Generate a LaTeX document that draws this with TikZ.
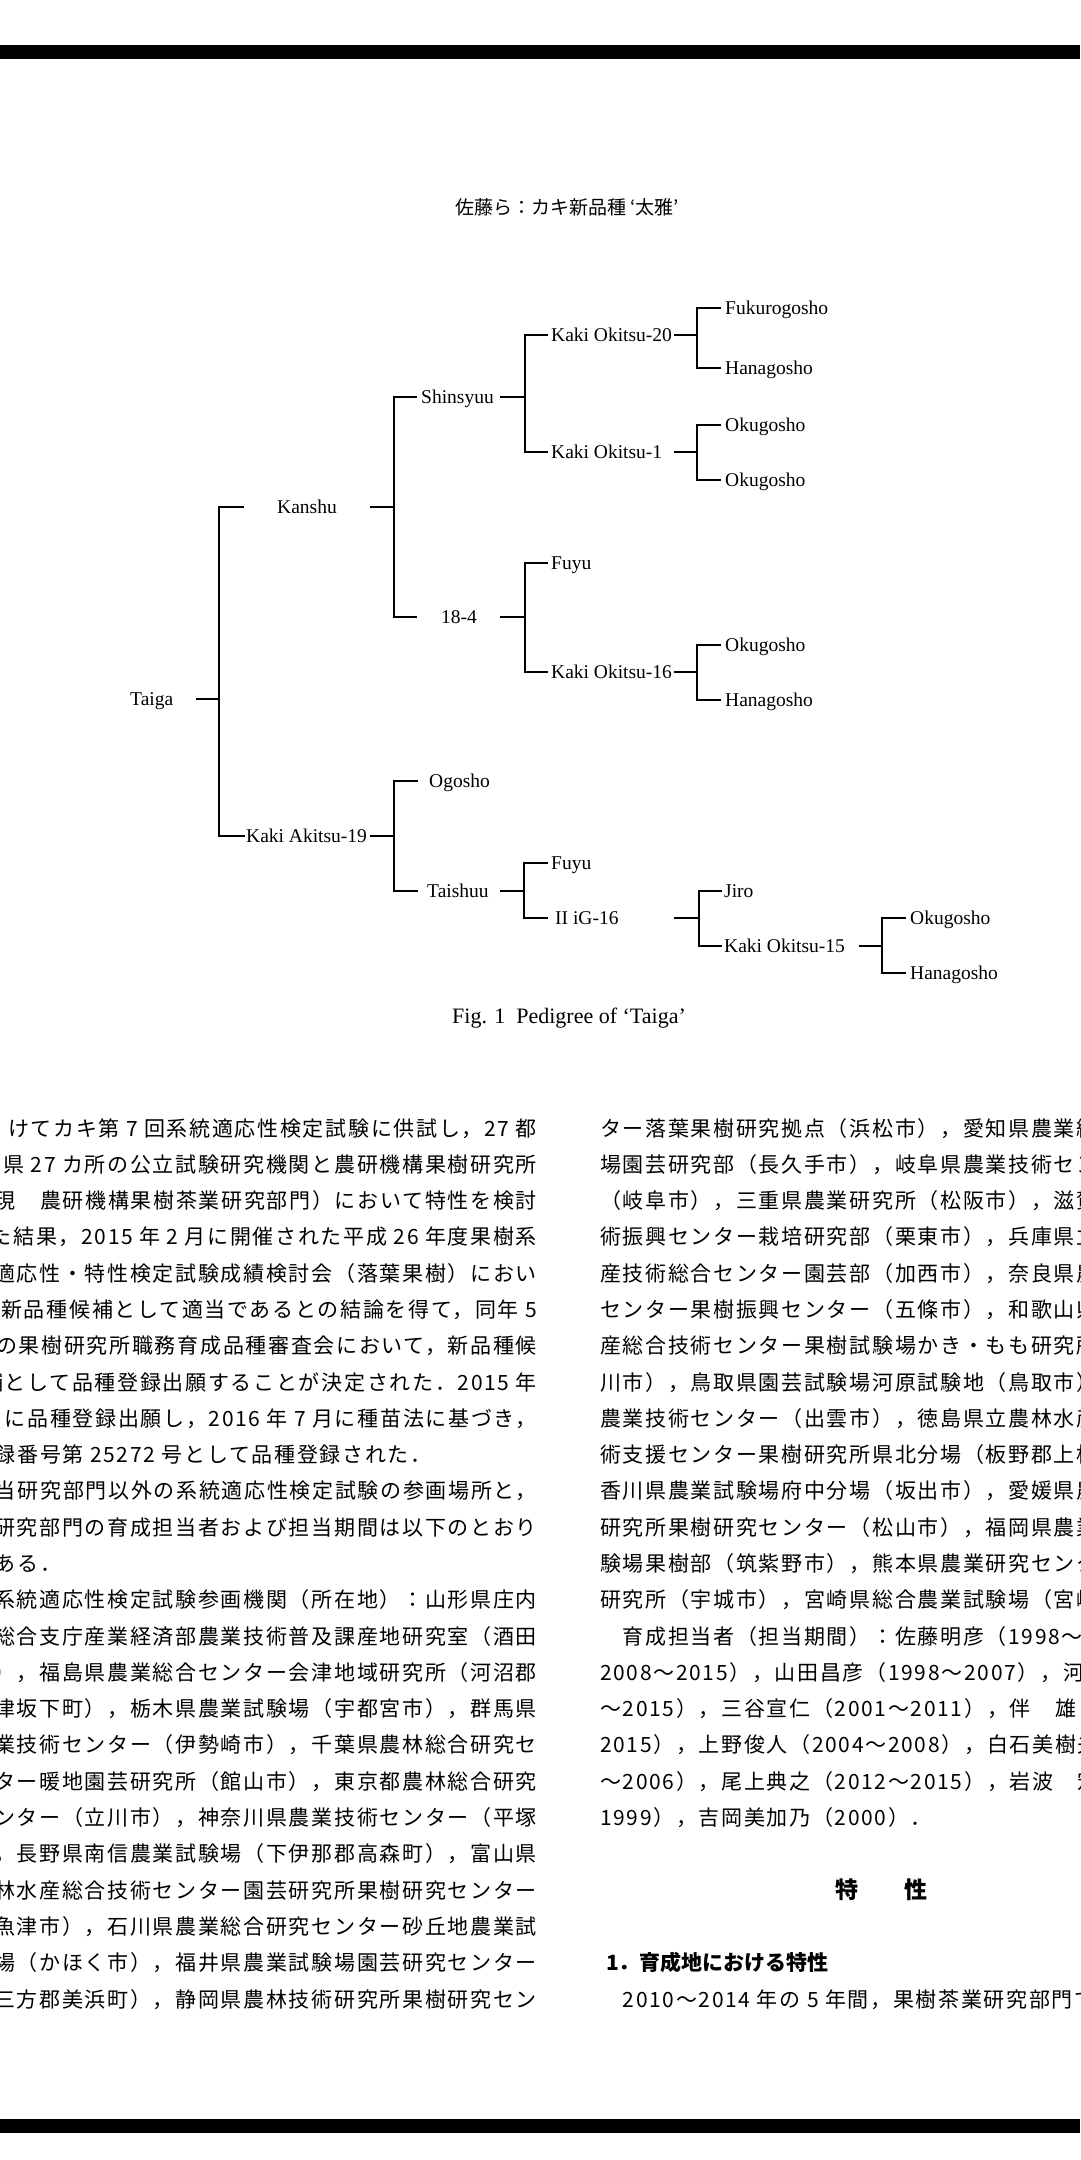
\documentclass[tikz,border=0pt]{standalone}
\usepackage{fontspec}
\setmainfont{Liberation Serif}
\newfontfamily\cjk[LetterSpace=8]{Noto Sans CJK JP}
\newfontfamily\cjkplain{Noto Sans CJK JP}
\begin{document}
\begin{tikzpicture}[x=1pt,y=-1pt,
  lnk/.style={line width=2.5pt, line join=miter},
  lab/.style={font=\fontsize{19.5}{20}\selectfont, anchor=west, inner sep=0pt, text height=12.9pt, text depth=0pt},
  jl/.style={font=\cjk\fontsize{21}{21}\selectfont, inner sep=0pt, anchor=base east},
  jw/.style={font=\cjk\fontsize{21}{21}\selectfont, inner sep=0pt, anchor=base west},
  bar/.style={fill=black}
]
\useasboundingbox (0,0) rectangle (1080,2160);
\fill[white] (0,0) rectangle (1080,2160);
\begin{scope}
\clip (0,0) rectangle (1080,2160);
% bars
\fill[bar] (0,45) rectangle (1080,59);
\fill[bar] (0,2119) rectangle (1080,2133);
% header
\node[font=\cjkplain\fontsize{19}{19}\selectfont, inner sep=0pt] (hdr) at (567,207) {佐藤ら：カキ新品種 ‘太雅’};

% ---------- pedigree ----------
\node[lab] (taiga) at (130,699) {Taiga};
\node[lab] (kanshu) at (277,507) {Kanshu};
\node[lab] (shin) at (421,397) {Shinsyuu};
\node[lab] (ko20) at (551,335) {Kaki Okitsu-20};
\node[lab] (fuku) at (725,308) {Fukurogosho};
\node[lab] (hana1) at (725,368) {Hanagosho};
\node[lab] (ko1) at (551,452) {Kaki Okitsu-1};
\node[lab] (oku1) at (725,425) {Okugosho};
\node[lab] (oku2) at (725,480) {Okugosho};
\node[lab] (e184) at (441,617) {18-4};
\node[lab] (fuyu1) at (551,563) {Fuyu};
\node[lab] (ko16) at (551,672) {Kaki Okitsu-16};
\node[lab] (oku3) at (725,645) {Okugosho};
\node[lab] (hana2) at (725,700) {Hanagosho};
\node[lab] (ka19) at (246,836) {Kaki Akitsu-19};
\node[lab] (ogo) at (429,781) {Ogosho};
\node[lab] (tai) at (427,891) {Taishuu};
\node[lab] (fuyu2) at (551,863) {Fuyu};
\node[lab] (iig) at (555,918) {II iG-16};
\node[lab] (jiro) at (724,891) {Jiro};
\node[lab] (ko15) at (724,946) {Kaki Okitsu-15};
\node[lab] (oku4) at (910,918) {Okugosho};
\node[lab] (hana3) at (910,973) {Hanagosho};

% brackets
\draw[lnk] (244,507) -| (219,836) -- (245,836);
\draw[lnk] (417,397) -| (394,617) -- (417,617);
\draw[lnk] (548,335) -| (525,452) -- (548,452);
\draw[lnk] (721,308) -| (697,368) -- (721,368);
\draw[lnk] (721,425) -| (697,480) -- (721,480);
\draw[lnk] (548,563) -| (525,672) -- (548,672);
\draw[lnk] (721,645) -| (697,700) -- (721,700);
\draw[lnk] (418,781) -| (394,891) -- (418,891);
\draw[lnk] (548,863) -| (524,918) -- (548,918);
\draw[lnk] (722,891) -| (699,946) -- (722,946);
\draw[lnk] (906,918) -| (882,973) -- (906,973);
% incoming stubs
\draw[lnk] (196,699) -- (219,699);
\draw[lnk] (370,507) -- (394,507);
\draw[lnk] (500,397) -- (525,397);
\draw[lnk] (674,335) -- (697,335);
\draw[lnk] (674,452) -- (697,452);
\draw[lnk] (500,617) -- (525,617);
\draw[lnk] (674,672) -- (697,672);
\draw[lnk] (370,836) -- (394,836);
\draw[lnk] (500,891) -- (524,891);
\draw[lnk] (674,918) -- (699,918);
\draw[lnk] (859,946) -- (882,946);

\node[font=\fontsize{22}{22}\selectfont, inner sep=0pt] (cap) at (569,1018) {Fig. 1\ \ Pedigree of ‘Taiga’};

% ---------- left column ----------
\node[jl] (l1) at (537,1136) {けてカキ第 7 回系統適応性検定試験に供試し，27 都};
\node[jl] (l2) at (537,1172.3) {道府県 27 カ所の公立試験研究機関と農研機構果樹研究所};
\node[jl] (l3) at (537,1208.6) {（現　農研機構果樹茶業研究部門）において特性を検討};
\node[jl] (l4) at (537,1244.9) {した結果，2015 年 2 月に開催された平成 26 年度果樹系};
\node[jl] (l5) at (537,1281.2) {統適応性・特性検定試験成績検討会（落葉果樹）におい};
\node[jl] (l6) at (537,1317.5) {て新品種候補として適当であるとの結論を得て，同年 5};
\node[jl] (l7) at (537,1353.7) {月の果樹研究所職務育成品種審査会において，新品種候};
\node[jl] (l8) at (537,1390) {補として品種登録出願することが決定された．2015 年};
\node[jl] (l9) at (537,1426.3) {月に品種登録出願し，2016 年 7 月に種苗法に基づき，};
\node[jw] (l10) at (-28,1462.6) {登録番号第 25272 号として品種登録された．};
\node[jl] (l11) at (537,1498.9) {　当研究部門以外の系統適応性検定試験の参画場所と，};
\node[jl] (l12) at (537,1535.2) {当研究部門の育成担当者および担当期間は以下のとおり};
\node[jw] (l13) at (-28,1571.5) {である．};
\node[jl] (l14) at (537,1607.8) {　系統適応性検定試験参画機関（所在地）：山形県庄内};
\node[jl] (l15) at (537,1644.1) {総合支庁産業経済部農業技術普及課産地研究室（酒田};
\node[jl] (l16) at (537,1680.4) {），福島県農業総合センター会津地域研究所（河沼郡};
\node[jl] (l17) at (537,1716.6) {会津坂下町），栃木県農業試験場（宇都宮市），群馬県};
\node[jl] (l18) at (537,1752.9) {農業技術センター（伊勢崎市），千葉県農林総合研究セ};
\node[jl] (l19) at (537,1789.2) {ンター暖地園芸研究所（館山市），東京都農林総合研究};
\node[jl] (l20) at (537,1825.5) {センター（立川市），神奈川県農業技術センター（平塚};
\node[jl] (l21) at (537,1861.8) {），長野県南信農業試験場（下伊那郡高森町），富山県};
\node[jl] (l22) at (537,1898.1) {農林水産総合技術センター園芸研究所果樹研究センター};
\node[jl] (l23) at (537,1934.4) {（魚津市），石川県農業総合研究センター砂丘地農業試};
\node[jl] (l24) at (537,1970.7) {験場（かほく市），福井県農業試験場園芸研究センター};
\node[jl] (l25) at (537,2007) {（三方郡美浜町），静岡県農林技術研究所果樹研究セン};

% ---------- right column ----------
\node[jw] (r1) at (600,1136) {ター落葉果樹研究拠点（浜松市），愛知県農業総合試験};
\node[jw] (r2) at (600,1172.3) {場園芸研究部（長久手市），岐阜県農業技術センター};
\node[jw] (r3) at (600,1208.6) {（岐阜市），三重県農業研究所（松阪市），滋賀県農業技};
\node[jw] (r4) at (600,1244.9) {術振興センター栽培研究部（栗東市），兵庫県立農林水};
\node[jw] (r5) at (600,1281.2) {産技術総合センター園芸部（加西市），奈良県農業研究};
\node[jw] (r6) at (600,1317.5) {センター果樹振興センター（五條市），和歌山県農林水};
\node[jw] (r7) at (600,1353.7) {産総合技術センター果樹試験場かき・もも研究所（紀の};
\node[jw] (r8) at (600,1390) {川市），鳥取県園芸試験場河原試験地（鳥取市），島根県};
\node[jw] (r9) at (600,1426.3) {農業技術センター（出雲市），徳島県立農林水産総合技};
\node[jw] (r10) at (600,1462.6) {術支援センター果樹研究所県北分場（板野郡上板町），};
\node[jw] (r11) at (600,1498.9) {香川県農業試験場府中分場（坂出市），愛媛県農林水産};
\node[jw] (r12) at (600,1535.2) {研究所果樹研究センター（松山市），福岡県農業総合試};
\node[jw] (r13) at (600,1571.5) {験場果樹部（筑紫野市），熊本県農業研究センター果樹};
\node[jw] (r14) at (600,1607.8) {研究所（宇城市），宮崎県総合農業試験場（宮崎市）．};
\node[jw] (r15) at (600,1644.1) {　育成担当者（担当期間）：佐藤明彦（1998～2001，};
\node[jw] (r16) at (600,1680.4) {2008～2015），山田昌彦（1998～2007），河野淳（2008};
\node[jw] (r17) at (600,1716.6) {～2015），三谷宣仁（2001～2011），伴　雄　介（2012～};
\node[jw] (r18) at (600,1752.9) {2015），上野俊人（2004～2008），白石美樹夫（1998};
\node[jw] (r19) at (600,1789.2) {～2006），尾上典之（2012～2015），岩波　宏（1998～};
\node[jw] (r20) at (600,1825.5) {1999），吉岡美加乃（2000）．};

\node[font=\cjkplain\bfseries\fontsize{23}{23}\selectfont, inner sep=0pt] (h1) at (881,1890) {特　　性};
\node[font=\cjkplain\bfseries\fontsize{21}{21}\selectfont, anchor=base west, inner sep=0pt] (h2) at (606,1970.7) {1．育成地における特性};
\node[jw] (r21) at (600,2007) {　2010～2014 年の 5 年間，果樹茶業研究部門で};
\end{scope}
\end{tikzpicture}
\end{document}
